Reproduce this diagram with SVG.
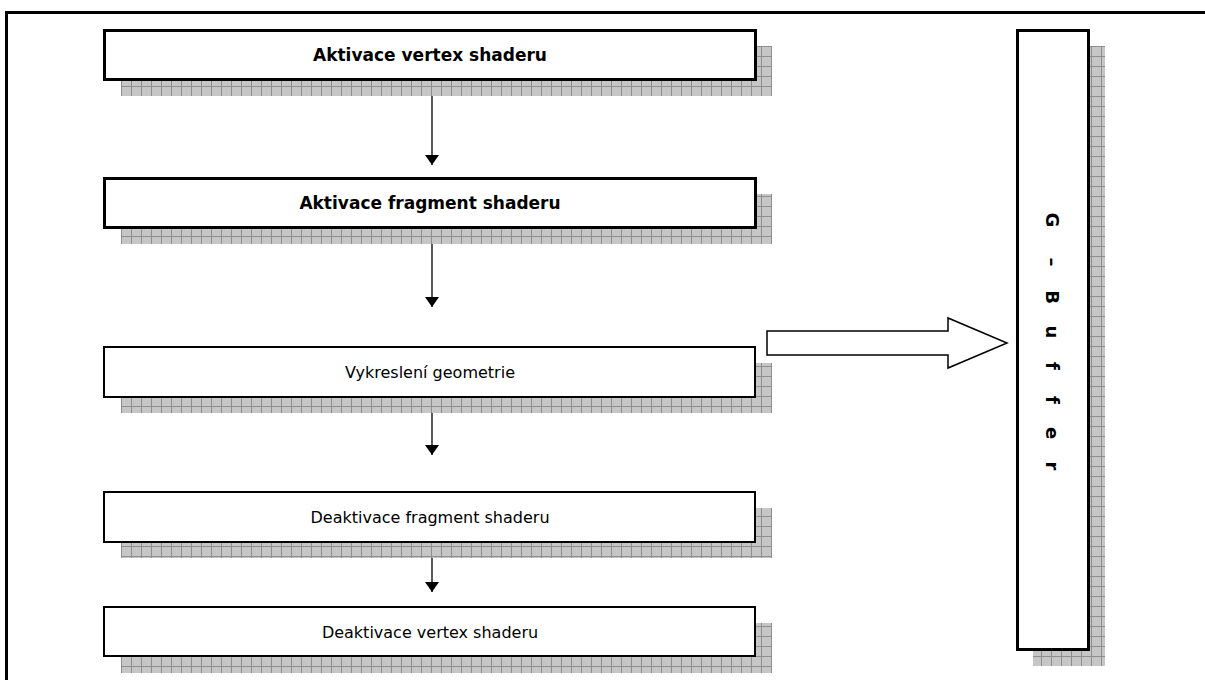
<svg xmlns="http://www.w3.org/2000/svg" width="1205" height="680" viewBox="0 0 1205 680">
  <defs>
    <!-- hatched grey shadow fill -->
    <pattern id="hatch" width="10" height="10" patternUnits="userSpaceOnUse" x="1" y="6">
      <rect width="10" height="10" fill="#c6c6c6"/>
      <path d="M0 0.5H10M0.5 0V10" stroke="#8e8e8e" stroke-width="1"/>
    </pattern>
    <marker id="arrowhead" viewBox="0 0 10 14" refX="10" refY="7" markerWidth="10" markerHeight="14" markerUnits="userSpaceOnUse" orient="auto">
      <path d="M0 0L10 7L0 14Z" fill="#000"/>
    </marker>
  </defs>
  <style>
    .shadow { fill: url(#hatch); }
    .box { fill: #fff; stroke: #000; stroke-width: 2; }
    .box.heavy { stroke-width: 3; }
    .label { font-family: "DejaVu Sans", Verdana, sans-serif; font-size: 16px; fill: #000; text-anchor: middle; }
    .label.bold { font-weight: bold; font-size: 17px; }
    .flow { stroke: #000; stroke-width: 1.3; fill: none; marker-end: url(#arrowhead); }
    .vert { font-family: "DejaVu Sans", Verdana, sans-serif; font-size: 18px; font-weight: bold; fill: #000; text-anchor: middle; }
  </style>

  <!-- outer frame -->
  <rect x="6.5" y="12.5" width="1210" height="700" fill="#fff" stroke="#000" stroke-width="3"/>

  <g id="step-vertex-on">
    <rect class="shadow" x="121" y="46" width="651" height="50"/>
    <rect class="box heavy" x="104.5" y="30.5" width="651" height="49"/>
    <text class="label bold" x="430" y="61">Aktivace vertex shaderu</text>
  </g>

  <g id="step-fragment-on">
    <rect class="shadow" x="121" y="194" width="651" height="50"/>
    <rect class="box heavy" x="104.5" y="178.5" width="651" height="49"/>
    <text class="label bold" x="430" y="209">Aktivace fragment shaderu</text>
  </g>

  <g id="step-draw">
    <rect class="shadow" x="121" y="363" width="651" height="50"/>
    <rect class="box" x="104" y="347" width="651" height="50"/>
    <text class="label" x="430" y="378">Vykreslení geometrie</text>
  </g>

  <g id="step-fragment-off">
    <rect class="shadow" x="121" y="508" width="651" height="50"/>
    <rect class="box" x="104" y="492" width="651" height="50"/>
    <text class="label" x="430" y="523">Deaktivace fragment shaderu</text>
  </g>

  <g id="step-vertex-off">
    <rect class="shadow" x="121" y="623" width="651" height="50"/>
    <rect class="box" x="104" y="607" width="651" height="49"/>
    <text class="label" x="430" y="638">Deaktivace vertex shaderu</text>
  </g>

  <g id="gbuffer">
    <rect class="shadow" x="1033" y="46" width="72" height="620"/>
    <rect class="box heavy" x="1017.5" y="30.5" width="71" height="619"/>
    <text class="vert" transform="rotate(90)" y="-1046" x="220 241 262 280 297 314 332 349 366 383 400 417 433 450 466">G – B u f f e r</text>
  </g>

  <g id="connectors">
    <line class="flow" x1="432" y1="96" x2="432" y2="165"/>
    <line class="flow" x1="432" y1="244" x2="432" y2="307"/>
    <line class="flow" x1="432" y1="413" x2="432" y2="455"/>
    <line class="flow" x1="432" y1="558" x2="432" y2="592"/>
    <!-- hollow block arrow into the G-buffer -->
    <path d="M767 331H948V318L1007 343L948 368V355H767Z" fill="#fff" stroke="#000" stroke-width="1.5" stroke-linejoin="miter"/>
  </g>
</svg>
